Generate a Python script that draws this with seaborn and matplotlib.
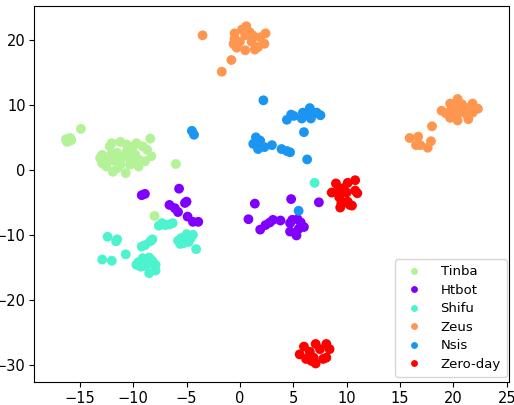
import numpy as np
import pandas as pd
import matplotlib
matplotlib.use("Agg")
import matplotlib.pyplot as plt
import seaborn as sns

labels = ["Tinba", "Htbot", "Shifu", "Zeus", "Nsis", "Zero-day"]
colors = ["#b3f296", "#8000ff", "#4df3ce", "#ff964f", "#1a96f2", "#ff0000"]

tinba_x = [-16.3, -16.0, -15.8, -16.2, -15.9, -14.9, -8.4, -12.0, -11.2, -10.6, -9.7, -9.1, -8.7, -12.2, -10.0,
           -11.5, -10.6, -12.9, -12.0, -9.8, -8.3, -13.1, -12.3, -11.1, -10.3, -9.4, -12.9, -11.7, -9.7,
           -8.9, -12.5, -11.5, -10.3, -9.5, -11.9, -10.7, -11.2, -6.0, -8.0]
tinba_y = [4.7, 4.4, 4.6, 4.3, 4.9, 6.3, 4.8, 4.1, 4.3, 3.9, 4.1, 3.6, 3.1, 3.6, 3.6,
           2.6, 2.8, 2.3, 2.5, 2.3, 2.1, 1.8, 1.5, 1.8, 1.6, 1.5, 1.0, 1.3, 1.0,
           1.3, 0.5, 0.25, 0.8, 0.5, -0.3, -0.5, 0.8, 0.9, -7.1]

htbot_x = [-9.2, -8.9, -5.7, -6.6, -6.1, -5.8, -5.15, -5.0, -4.9, -4.4, -3.9, 1.4, 4.8, 7.4, 0.8, 1.9, 2.4,
           2.8, 3.1, 3.8, 4.7, 4.9, 5.7, 6.0, 5.5, 4.7, 5.3, 5.4]
htbot_y = [-3.9, -3.7, -2.9, -5.4, -5.9, -6.5, -5.1, -4.9, -7.2, -8.0, -8.0, -5.2, -4.5, -5.0, -7.6, -9.2, -8.5,
           -8.1, -7.7, -7.8, -8.2, -7.7, -8.1, -8.8, -9.1, -9.5, -10.1, -7.6]

shifu_x = [-7.3, -7.0, -6.6, -6.3, -7.6, -12.4, -11.6, -11.5, -9.2, -8.9, -8.4, -8.2, -5.8, -5.5, -5.2,
           -4.9, -4.6, -5.3, -4.8, -5.6, -4.4, -5.0, -4.1, -10.7, -12.9, -12.0, -9.5, -9.1, -8.7, -8.4,
           -8.9, -9.3, -8.2, -9.7, -8.5, -7.9, -8.5, -7.9, 7.0]
shifu_y = [-8.2, -8.5, -8.4, -8.2, -8.6, -10.3, -11.0, -10.7, -11.8, -11.6, -11.0, -10.7, -10.9, -10.5, -10.7,
           -10.3, -10.5, -11.3, -11.1, -11.4, -10.0, -9.9, -12.2, -13.0, -13.8, -14.0, -14.2, -13.6, -13.9, -14.4,
           -14.8, -14.9, -14.0, -14.6, -13.5, -14.6, -15.9, -15.5, -2.0]

zeus_x = [-3.5, -0.8, -1.7, 0.6, 0.2, 0.9, -0.5, 0.5, 1.9, 2.4, -0.6, 0.0, 1.1, 2.3, -0.3, 0.5, 1.4, 1.7,
          -0.5, 1.2, 15.9, 16.7, 16.5, 16.9, 17.6, 17.9, 18.0, 20.4, 19.7, 20.8, 21.8, 18.9, 19.8, 20.6,
          21.4, 22.3, 19.3, 20.3, 21.1, 21.8, 19.7, 20.4, 21.4, 20.0, 21.0]
zeus_y = [20.7, 16.9, 15.1, 22.1, 21.6, 21.2, 21.0, 20.7, 20.4, 21.0, 19.4, 19.7, 19.7, 19.4, 18.8, 18.4, 18.5, 18.9,
          20.2, 20.7, 4.9, 5.1, 3.8, 3.8, 3.4, 4.4, 6.7, 10.9, 10.2, 10.1, 10.2, 9.1, 9.2, 9.3,
          9.5, 9.4, 8.7, 8.4, 8.7, 8.8, 8.0, 7.6, 7.8, 9.7, 9.6]

nsis_x = [2.2, -4.5, -4.3, 1.5, 1.9, 1.25, 1.7, 2.3, 3.0, 3.9, 4.4, 4.7, 6.0, 6.3, 4.4, 4.8, 5.05, 5.8, 5.9,
          6.55, 6.65, 6.9, 7.2, 7.55, 6.4, 5.5]
nsis_y = [10.7, 6.0, 5.4, 5.0, 4.5, 4.0, 3.2, 3.5, 3.8, 3.2, 2.9, 2.7, 5.8, 1.6, 7.7, 8.5, 8.3, 7.9, 8.8,
          9.5, 7.9, 8.7, 8.8, 8.4, 8.7, -6.3]

zero_x = [9.0, 10.1, 10.8, 8.6, 9.2, 9.7, 10.0, 10.8, 11.0, 9.3, 9.5, 9.9, 10.3, 9.4, 10.1, 10.5,
          6.0, 7.1, 8.1, 5.6, 6.55, 7.5, 8.4, 6.2, 6.9, 7.8, 7.1, 8.1, 6.7]
zero_y = [-2.1, -2.0, -1.6, -3.5, -3.3, -2.8, -3.5, -3.2, -3.6, -4.2, -5.1, -5.0, -5.4, -5.8, -4.9, -5.5,
          -27.2, -26.8, -26.8, -28.4, -28.0, -27.6, -27.6, -29.1, -28.9, -29.1, -29.8, -28.9, -29.4]

xs = [tinba_x, htbot_x, shifu_x, zeus_x, nsis_x, zero_x]
ys = [tinba_y, htbot_y, shifu_y, zeus_y, nsis_y, zero_y]

frames = []
for lab, x, y in zip(labels, xs, ys):
    frames.append(pd.DataFrame({"x": x, "y": y, "label": lab}))
df = pd.concat(frames, ignore_index=True)

plt.rcParams["font.family"] = ["DejaVu Sans"]
fig = plt.figure(figsize=(5.14, 4.05), dpi=100)
ax = fig.add_axes([0.066, 0.056, 0.924, 0.929])
sns.scatterplot(data=df, x="x", y="y", hue="label", hue_order=labels,
                palette=dict(zip(labels, colors)), s=50, linewidth=0, ax=ax)
ax.set_xlim(-19.3, 25.2)
ax.set_ylim(-32.7, 25.2)
ax.set_xticks([-15, -10, -5, 0, 5, 10, 15, 20, 25])
ax.set_yticks([-30, -20, -10, 0, 10, 20])
ax.set_xlabel("")
ax.set_ylabel("")
ax.tick_params(labelsize=10.5, length=3.5, pad=2.5)
leg = ax.legend(loc="lower right", bbox_to_anchor=(1.004, 0.004), fontsize=9.5,
                markerscale=0.7, borderpad=0.45, borderaxespad=0.3,
                labelspacing=0.42, handletextpad=1.0)
for s in ax.spines.values():
    s.set_color("black")
fig.savefig("out.png", dpi=100)
